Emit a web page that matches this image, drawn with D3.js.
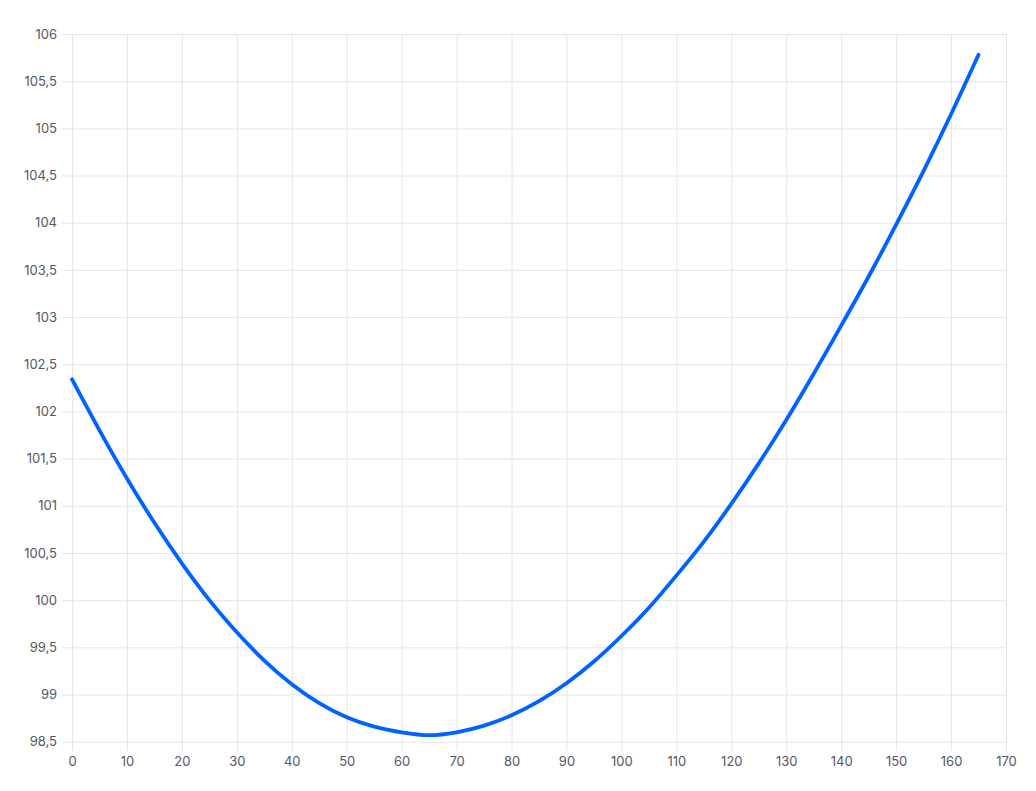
<!DOCTYPE html>
<html>
<head>
<meta charset="utf-8">
<script src="https://cdn.jsdelivr.net/npm/d3@7"></script>
<style>
  html, body { margin: 0; padding: 0; background: #ffffff; }
  svg { display: block; }
  .tick text { font-family: Inter, "Noto Sans", sans-serif; font-size: 13px; fill: #545862; }
</style>
</head>
<body>
<svg id="chart" width="1036" height="791"></svg>
<script>
const xValues = [0, 5, 10, 15, 20, 25, 30, 35, 40, 45, 50, 55, 60, 65, 70, 75, 80, 85, 90, 95, 100, 105, 110, 115, 120, 125, 130, 135, 140, 145, 150, 155, 160, 165];
const yValues = [102.34, 101.80, 101.29, 100.82, 100.39, 100.00, 99.66, 99.36, 99.11, 98.91, 98.76, 98.66, 98.60, 98.57, 98.60, 98.67, 98.78, 98.93, 99.12, 99.35, 99.62, 99.92, 100.26, 100.62, 101.02, 101.45, 101.91, 102.40, 102.91, 103.43, 103.98, 104.55, 105.15, 105.78];
const xTicks = [0, 10, 20, 30, 40, 50, 60, 70, 80, 90, 100, 110, 120, 130, 140, 150, 160, 170];
const yTicks = [98.5, 99, 99.5, 100, 100.5, 101, 101.5, 102, 102.5, 103, 103.5, 104, 104.5, 105, 105.5, 106];

(function () {
  const svg = d3.select("#chart");
  const mLeft = 72, mRight = 1006, mTop = 34, mBottom = 741.7;

  const x = d3.scaleLinear().domain([0, 170]).range([mLeft, mRight]);
  const y = d3.scaleLinear().domain([98.5, 106]).range([mBottom, mTop]);

  const fmt = v => String(v).replace(".", ",");
  const gridColor = "#e4e5ea";

  // Y axis with gridlines
  const yAxis = svg.append("g")
    .attr("transform", `translate(${mRight},0)`)
    .call(d3.axisLeft(y).tickValues(yTicks).tickFormat(fmt).tickSize(mRight - mLeft + 10).tickPadding(5));
  yAxis.select(".domain").remove();
  yAxis.selectAll(".tick line").attr("stroke", gridColor).attr("stroke-width", 1);

  // X axis with gridlines
  const xAxis = svg.append("g")
    .attr("transform", `translate(0,${mTop})`)
    .call(d3.axisBottom(x).tickValues(xTicks).tickFormat(d => d).tickSize(mBottom - mTop + 9).tickPadding(6));
  xAxis.select(".domain").remove();
  xAxis.selectAll(".tick line").attr("stroke", gridColor).attr("stroke-width", 1);

  // Line
  const data = xValues.map((d, i) => ({ x: d, y: yValues[i] }));
  const line = d3.line().x(d => x(d.x)).y(d => y(d.y)).curve(d3.curveMonotoneX);
  svg.append("path")
    .datum(data)
    .attr("fill", "none")
    .attr("stroke", "#0062ff")
    .attr("stroke-width", 3.8)
    .attr("stroke-linecap", "round")
    .attr("stroke-linejoin", "round")
    .attr("d", line);
})();
</script>
</body>
</html>
